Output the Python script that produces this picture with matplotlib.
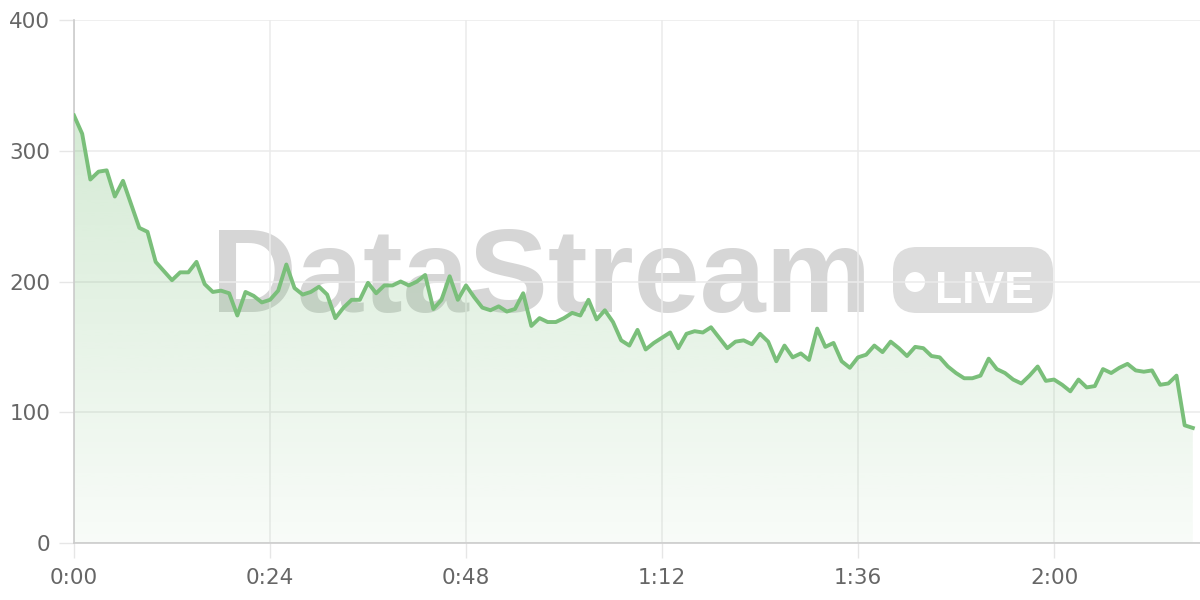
import numpy as np
import matplotlib
matplotlib.use("Agg")
import matplotlib.pyplot as plt
from matplotlib.patches import FancyBboxPatch, Circle

# one reading per minute
values = [327, 313, 278, 284, 285, 265, 277, 259, 241, 238,
          215, 208, 201, 207, 207, 215, 198, 192, 193, 191,
          174, 192, 189, 184, 186, 193, 213, 195, 190, 192,
          196, 190, 172, 180, 186, 186, 199, 191, 197, 197,
          200, 197, 200, 205, 179, 186, 204, 186, 197, 188,
          180, 178, 181, 177, 179, 191, 166, 172, 169, 169,
          172, 176, 174, 186, 171, 178, 169, 155, 151, 163,
          148, 153, 157, 161, 149, 160, 162, 161, 165, 157,
          149, 154, 155, 152, 160, 154, 139, 151, 142, 145,
          140, 164, 150, 153, 139, 134, 142, 144, 151, 146,
          154, 149, 143, 150, 149, 143, 142, 135, 130, 126,
          126, 128, 141, 133, 130, 125, 122, 128, 135, 124,
          125, 121, 116, 125, 119, 120, 133, 130, 134, 137,
          132, 131, 132, 121, 122, 128, 90, 88]
minutes = np.arange(len(values))

x_ticks = [0, 24, 48, 72, 96, 120]
x_labels = ["0:00", "0:24", "0:48", "1:12", "1:36", "2:00"]
y_ticks = [0, 100, 200, 300, 400]

line_color = "#7abf7a"
label_color = "#666666"

fig = plt.figure(figsize=(12, 6), dpi=100)
ax = fig.add_axes([74 / 1200, 57 / 600, 1126 / 1200, 523 / 600])
ax.patch.set_alpha(0)

# watermark, behind the axes
fig.text(211 / 1200, 1 - 312 / 600, "DataStream", family="Liberation Sans",
         weight="bold", fontsize=85.5, color="#d6d6d6", ha="left", va="baseline",
         zorder=-3)
pill = FancyBboxPatch((8.93, 2.87), 1.6, 0.66,
                      boxstyle="round,pad=0,rounding_size=0.24",
                      transform=fig.dpi_scale_trans, facecolor="#dddddd",
                      edgecolor="none", zorder=-3)
fig.patches.append(pill)
dot = Circle((9.15, 3.18), 0.1, transform=fig.dpi_scale_trans,
             facecolor="white", edgecolor="none", zorder=-2)
fig.patches.append(dot)
fig.text(9.84 / 12, 2.97 / 6, "LIVE", family="Liberation Sans",
         weight="bold", fontsize=32, color="white", ha="center", va="baseline",
         zorder=-2)

# gradient area under the line
poly = ax.fill_between(minutes, values, 0, facecolor="none", edgecolor="none")
rgb = matplotlib.colors.to_rgb(line_color)
alphas = np.linspace(0.05, 0.32, 256)
img = np.zeros((256, 1, 4))
img[:, 0, :3] = rgb
img[:, 0, 3] = alphas
im = ax.imshow(img, extent=[0, minutes[-1], 0, max(values)], origin="lower",
               aspect="auto", zorder=1, interpolation="bilinear")
im.set_clip_path(poly.get_paths()[0], transform=ax.transData)

ax.plot(minutes, values, color=line_color, linewidth=2.8, zorder=3,
        solid_joinstyle="round")

ax.set_xlim(0, 1126 / (196 / 24))
ax.set_ylim(0, 400)
ax.set_xticks(x_ticks)
ax.set_xticklabels(x_labels)
ax.set_yticks(y_ticks)

ax.set_axisbelow(True)
ax.grid(True, color="#ebebeb", linewidth=1.1)
for side in ["top", "right"]:
    ax.spines[side].set_visible(False)
for side in ["left", "bottom"]:
    ax.spines[side].set_color("#cccccc")
    ax.spines[side].set_linewidth(1.2)

ax.tick_params(axis="both", length=11, width=1, color="#e6e6e6",
               labelcolor=label_color, labelsize=15.5)
ax.tick_params(axis="y", pad=6)
ax.tick_params(axis="x", pad=7)
for lab in ax.get_xticklabels() + ax.get_yticklabels():
    lab.set_family("DejaVu Sans")

fig.savefig("out.png", dpi=100)
